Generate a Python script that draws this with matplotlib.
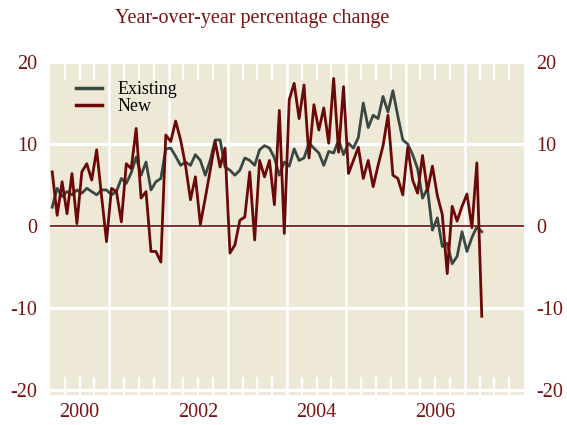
import numpy as np
import matplotlib.pyplot as plt
from matplotlib.ticker import FixedLocator, FuncFormatter

plt.rcParams['font.family'] = ['Liberation Serif', 'DejaVu Serif']

# monthly year-over-year % change, Jan 2000 - Apr 2007
existing = [2.3, 4.6, 3.6, 4.2, 3.8, 4.4, 4.0, 4.6, 4.2, 3.8, 4.4, 4.4,
            3.8, 4.2, 5.8, 5.2, 6.5, 8.4, 6.2, 7.8, 4.4, 5.4, 5.8, 9.4,
            9.5, 8.5, 7.4, 7.8, 7.4, 8.7, 8.0, 6.2, 8.0, 10.5, 10.5, 7.2,
            6.8, 6.2, 6.8, 8.3, 8.0, 7.4, 9.3, 9.8, 9.5, 8.3, 6.2, 7.8,
            7.3, 9.4, 8.0, 8.3, 10.1, 9.5, 8.9, 7.4, 9.1, 8.9, 10.5, 8.7,
            10.1, 9.5, 10.8, 15.0, 12.0, 13.5, 13.1, 15.8, 13.9, 16.5, 13.4, 10.5,
            10.0, 8.7, 7.0, 3.4, 4.6, -0.5, 1.0, -2.5, -2.1, -4.6, -3.7, -0.7,
            -3.1, -1.4, -0.1, -0.7]
new = [6.6, 1.3, 5.4, 1.5, 6.4, 0.3, 6.6, 7.6, 5.6, 9.3, 3.6, -1.9,
       4.6, 4.2, 0.5, 7.6, 7.0, 11.9, 3.4, 4.2, -3.1, -3.1, -4.4, 11.1,
       10.3, 12.8, 10.5, 7.4, 3.2, 6.0, 0.2, 3.4, 6.8, 10.3, 7.2, 9.5,
       -3.3, -2.3, 0.7, 1.1, 6.6, -1.7, 8.0, 6.0, 8.0, 2.6, 14.1, -0.9,
       15.4, 17.4, 13.1, 17.2, 8.3, 14.8, 11.7, 14.4, 10.1, 18.0, 9.0, 17.0,
       6.4, 8.0, 9.6, 5.8, 8.0, 4.8, 7.4, 9.8, 13.5, 6.2, 5.8, 3.8,
       9.6, 5.6, 4.0, 8.6, 4.3, 7.3, 3.7, 1.4, -5.8, 2.4, 0.6, 2.4,
       3.9, -0.2, 7.7, -11.0]
t = 2000 + (np.arange(len(new)) + 0.45) / 12

year_labels = ['2000', '2002', '2004', '2006']
yticks = [-20, -10, 0, 10, 20]

red = '#6b0808'
gray = '#3a4843'
txt_red = '#7a1414'
bg = '#eee9d7'

fig = plt.figure(figsize=(5.67, 4.25), dpi=100)
ax = fig.add_axes([50 / 567, 1 - 395 / 425, 474 / 567, 333 / 425])
ax.set_facecolor(bg)

ax.plot(t, existing, color=gray, lw=2.0, label='Existing', zorder=3)
ax.plot(t, new, color=red, lw=2.0, label='New', zorder=4)
ax.axhline(0, color=red, lw=1.2, zorder=2)

ax.set_xlim(2000, 2008)
ax.set_ylim(-20.6, 20)

# year boundaries as white grid, quarters as white ticks
ax.xaxis.set_major_locator(FixedLocator(np.arange(2001, 2008)))
quarters = [y + q for y in range(2000, 2008) for q in (0.25, 0.5, 0.75)]
ax.xaxis.set_minor_locator(FixedLocator(quarters))
ax.xaxis.set_major_formatter(FuncFormatter(lambda v, p: ''))
ax.xaxis.set_minor_formatter(FuncFormatter(
    lambda v, p: str(int(v)) if abs(v % 1 - 0.5) < 1e-6 and str(int(v)) in year_labels else ''))
ax.tick_params(axis='x', which='major', length=0)
ax.tick_params(axis='x', which='minor', direction='in', length=13, width=1.6,
               color='white', top=True, bottom=True, labelsize=14.5,
               labelcolor=txt_red, pad=6)
ax.grid(axis='x', which='major', color='white', lw=1.8)

ax.set_yticks(yticks)
ax.set_yticklabels([str(v) for v in yticks])
ax.tick_params(axis='y', length=0, labelsize=14.5, labelcolor=txt_red,
               labelleft=True, labelright=True, pad=9)
ax.grid(axis='y', color='white', lw=2.2)
ax.set_axisbelow(True)

for s in ax.spines.values():
    s.set_visible(False)

leg = ax.legend(loc='upper left', bbox_to_anchor=(0.04, 0.965), frameon=False,
                fontsize=13, handlelength=1.45, handletextpad=0.85,
                labelspacing=0.02, borderaxespad=0)
for h in leg.get_lines():
    h.set_linewidth(2.5)

fig.text(115 / 567, 1 - 18 / 425, 'Year-over-year percentage change',
         color=txt_red, fontsize=14.5, ha='left', va='center')

fig.savefig('out.png', dpi=100)
